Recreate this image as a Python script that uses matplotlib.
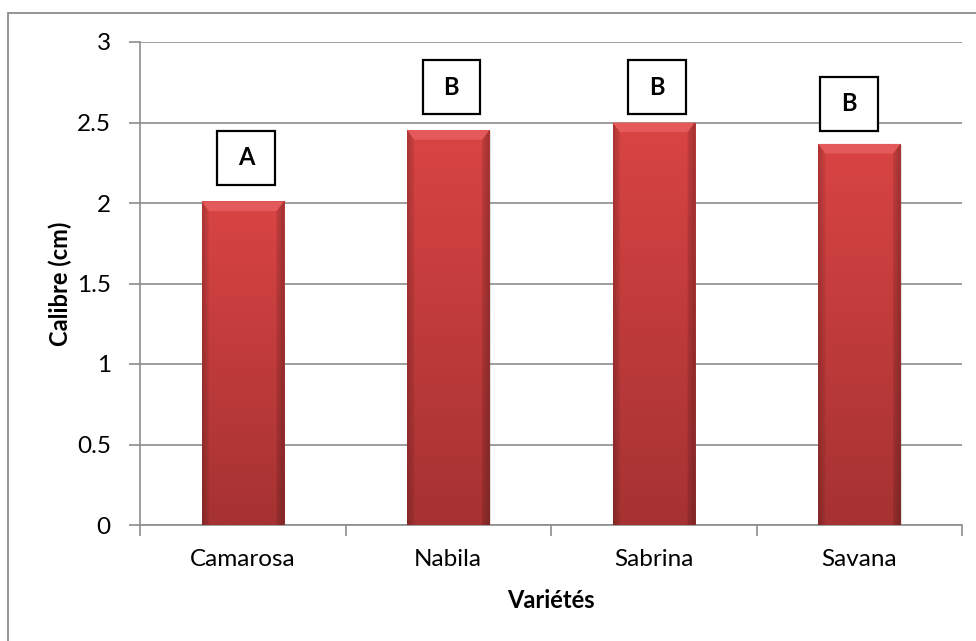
import numpy as np
import matplotlib.pyplot as plt
from matplotlib.patches import Rectangle, Polygon
from matplotlib.colors import to_rgb

plt.rcParams['font.family'] = ['Lato', 'DejaVu Sans']

varietes = ['Camarosa', 'Nabila', 'Sabrina', 'Savana']
calibre = [2.01, 2.453, 2.50, 2.367]
groupes = ['A', 'B', 'B', 'B']
groupe_y = [2.28, 2.72, 2.72, 2.615]
groupe_dx = [0.015, 0.015, 0.015, -0.05]

fig = plt.figure(figsize=(9.76, 6.41), dpi=100)
ax = fig.add_axes([140 / 976, 1 - 525 / 641, (962 - 140) / 976, (525 - 42) / 641])

# cadre gris autour du graphique (bords droit et bas hors image)
fig.patches.append(Rectangle((8 / 976, -0.01), 1.05, 1 - 13 / 641 + 0.01,
                             transform=fig.transFigure, fill=False,
                             edgecolor='#8c8c8c', lw=1.3, zorder=0))

x = np.arange(len(varietes))
larg = 0.4
bars = ax.bar(x, calibre, width=larg, color='none', zorder=3)

top_c = np.array(to_rgb('#d94444'))
bot_c = np.array(to_rgb('#a63232'))
ny, nx = 200, 60
t = np.linspace(0, 1, ny)[:, None]
u = np.linspace(-1, 1, nx)[None, :]
edge = 1 - 0.15 * np.clip((np.abs(u) - 0.85) / 0.15, 0, 1)
grad = (top_c[None, None, :] * (1 - t[..., None]) + bot_c[None, None, :] * t[..., None])
grad = grad * edge[..., None]

for b, v in zip(bars, calibre):
    x0 = b.get_x()
    w = b.get_width()
    # ombre légère à droite
    ax.add_patch(Rectangle((x0 + 0.008, 0), w, v - 0.005, color='#000000',
                           alpha=0.12, zorder=2, lw=0))
    im = ax.imshow(grad, extent=(x0, x0 + w, 0, v), aspect='auto',
                   origin='upper', zorder=3, interpolation='bilinear')
    im.set_clip_path(b)
    # biseau en haut et sur les côtés de la barre
    bh = 0.06
    bw = 0.035
    ax.add_patch(Polygon([(x0, v), (x0 + w, v), (x0 + w - bw, v - bh), (x0 + bw, v - bh)],
                         closed=True, color='#e45a5a', lw=0, zorder=4))
    ax.add_patch(Polygon([(x0, v), (x0 + bw, v - bh), (x0 + bw, 0), (x0, 0)],
                         closed=True, color='#000000', alpha=0.06, lw=0, zorder=4))
    ax.add_patch(Polygon([(x0 + w, v), (x0 + w - bw, v - bh), (x0 + w - bw, 0), (x0 + w, 0)],
                         closed=True, color='#000000', alpha=0.12, lw=0, zorder=4))

# lettres de significativité dans des cadres
bw_box, bh_box = 0.28, 0.34
for xi, g, gy, dx in zip(x, groupes, groupe_y, groupe_dx):
    cx = xi + dx
    ax.add_patch(Rectangle((cx - bw_box / 2, gy - bh_box / 2), bw_box, bh_box,
                           facecolor='white', edgecolor='black', lw=1.6, zorder=5))
    ax.text(cx, gy, g, ha='center', va='center', fontsize=17, fontweight='bold', zorder=6)

ax.set_xlim(-0.5, len(varietes) - 0.5)
ax.set_ylim(0, 3)
ax.set_yticks(np.arange(0, 3.01, 0.5))
ax.set_yticklabels(['0', '0.5', '1', '1.5', '2', '2.5', '3'])
ax.yaxis.grid(True, color='#8c8c8c', lw=1.2, zorder=0)
ax.set_axisbelow(True)

ax.set_xticks(x)
ax.set_xticklabels(varietes)
ax.set_xticks(np.arange(-0.5, len(varietes)), minor=True)
ax.tick_params(axis='x', which='major', length=0, pad=17, labelsize=17.5)
ax.tick_params(axis='x', which='minor', length=8, width=1.2, color='#8c8c8c')
ax.tick_params(axis='y', length=8, width=1.2, color='#8c8c8c', pad=13, labelsize=17.5)

for s in ['top', 'right']:
    ax.spines[s].set_visible(False)
for s in ['left', 'bottom']:
    ax.spines[s].set_color('#8c8c8c')
    ax.spines[s].set_linewidth(1.2)

ax.set_ylabel('Calibre (cm)', fontsize=17, fontweight='bold')
ax.yaxis.set_label_coords(-0.083, 0.5)
ax.set_xlabel('Variétés', fontsize=17, fontweight='bold', labelpad=14)

fig.savefig('out.png', dpi=100)
